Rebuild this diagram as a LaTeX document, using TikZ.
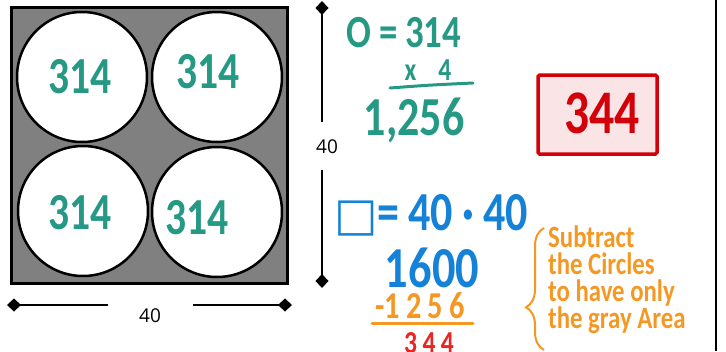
\documentclass[tikz,border=0pt]{standalone}
\usepackage{fontspec}
\setmainfont{Open Sans}
\newfontfamily\hand[FakeStretch=0.8]{Carlito}
\newfontfamily\symf{DejaVu Sans}
\usetikzlibrary{arrows.meta,decorations.pathreplacing}
\definecolor{tealc}{RGB}{38,153,133}
\definecolor{bluec}{RGB}{22,130,215}
\definecolor{orangec}{RGB}{245,152,35}
\definecolor{redc}{RGB}{235,35,35}
\definecolor{boxred}{RGB}{210,0,8}
\definecolor{boxfill}{RGB}{251,228,230}
\definecolor{grayc}{RGB}{128,128,128}
\tikzset{
  hw/.style={inner sep=0pt, font=\hand\bfseries\fontsize{#1}{#1}\selectfont},
  ring/.style={circle, draw=black, fill=white, line width=2.5pt, minimum size=130pt, inner sep=0pt},
  dimline/.style={line width=2pt, -{Diamond[length=14pt,width=13pt]}},
  lbl/.style={inner sep=0pt, font=\fontsize{19}{19}\selectfont}
}
\begin{document}
\begin{tikzpicture}[x=1pt,y=-1pt]
\useasboundingbox (0,0) rectangle (726,351);
% square with circles
\node[draw=black, fill=grayc, line width=3pt, minimum width=276pt, minimum height=276pt, inner sep=0pt] (sq) at (149,145) {};
\node[ring] (c1) at (82,77) {};
\node[ring] (c2) at (217,77) {};
\node[ring] (c3) at (83,211) {};
\node[ring] (c4) at (217,212) {};
\node[hw=52, text=tealc] (t1) at (80,77) {314};
\node[hw=52, text=tealc] (t2) at (208,72) {314};
\node[hw=52, text=tealc] (t3) at (80,213) {314};
\node[hw=52, text=tealc] (t4) at (197,218) {314};
% horizontal dimension
\coordinate (hl) at (7,305);
\coordinate (hls) at (108,305);
\coordinate (hr) at (292,305);
\coordinate (hrs) at (193,305);
\node[lbl] (w) at (150,316) {40};
\draw[dimline] (hls) -- (hl);
\draw[dimline] (hrs) -- (hr);
% vertical dimension
\coordinate (vt) at (322,1);
\coordinate (vts) at (322,122);
\coordinate (vb) at (322,288);
\coordinate (vbs) at (322,170);
\node[lbl] (h) at (327,147) {40};
\draw[dimline] (vts) -- (vt);
\draw[dimline] (vbs) -- (vb);
% circles computation
\node[hw=46, text=tealc] (eq1) at (404,33) {O\,=\,314};
\node[hw=32, text=tealc] (eq2) at (428,70) {x\hspace{22pt}4};
\coordinate (u1) at (390,88);
\coordinate (u2) at (473,83);
\draw[tealc, line width=3pt, line cap=round] (u1) .. controls (430,85) .. (u2);
\node[hw=55, text=tealc] (eq3) at (414,120) {1,256};
% answer box
\node[draw=boxred, fill=boxfill, line width=3.5pt, rounded corners=1.5pt, minimum width=119pt, minimum height=79pt, inner sep=0pt] (ans) at (597.5,114.5) {};
\node[hw=62, text=boxred] (anst) at (602,113) {344};
% square computation
\node[hw=55, text=bluec] (sq1) at (431,215) {{\symf\bfseries\fontsize{46}{46}\selectfont □}=\,40\,·\,40};
\node[hw=58, text=bluec] (sq2) at (432,268) {1600};
\node[hw=38, text=orangec] (sub) at (420,306) {-1\,2\,5\,6};
\coordinate (o1) at (372,323);
\coordinate (o2) at (473,323);
\draw[orangec, line width=3pt, line cap=round] (o1) -- (o2);
\node[hw=32, text=redc] (res) at (429,343) {3\,4\,4};
% note
\coordinate (bt) at (544,228);
\coordinate (bb) at (544,350);
\draw[orangec, line width=2pt, decorate, decoration={brace, amplitude=18pt, aspect=0.35}] (bb) -- (bt);
\node[inner sep=0pt, anchor=north west, align=left, text=orangec, font=\hand\bfseries\fontsize{31}{27}\selectfont] (note) at (548,226) {Subtract\\the Circles\\to have only\\the gray Area};
% right edge line
\coordinate (r1) at (716,0);
\coordinate (r2) at (716,351);
\draw[line width=2.5pt] (r1) -- (r2);
\end{tikzpicture}
\end{document}
